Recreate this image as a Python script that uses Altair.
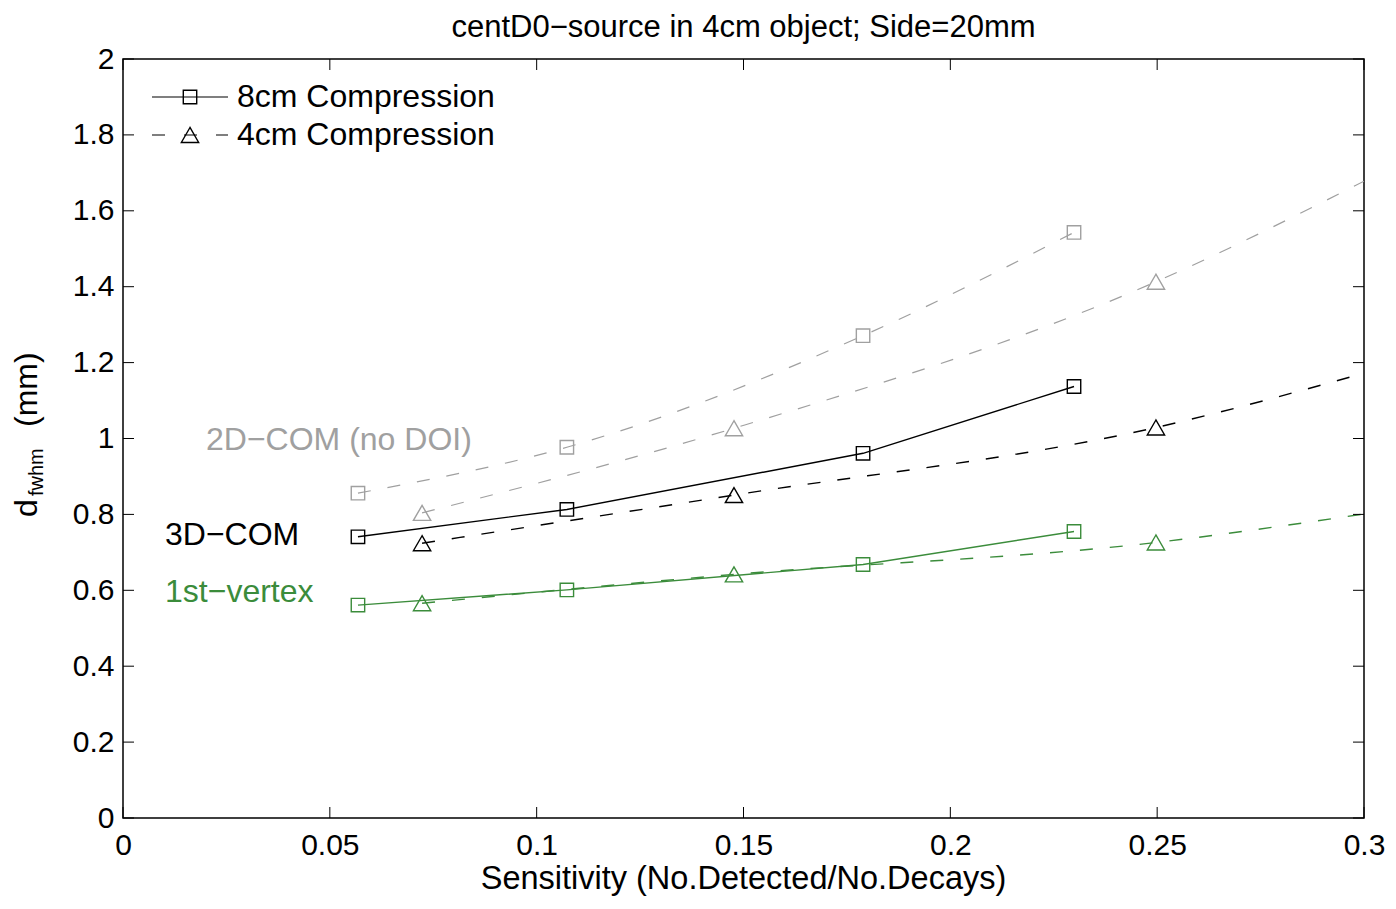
import altair as alt
import pandas as pd

# ---- data ----
x_8cm = [0.0568, 0.1073, 0.1789, 0.2299]
x_4cm = [0.0723, 0.1477, 0.2497]
x_fit_end = 0.3

y_2d_8cm = [0.856, 0.977, 1.271, 1.543]
y_2d_4cm = [0.804, 1.027, 1.413]
y_2d_4cm_end = 1.678

y_3d_8cm = [0.741, 0.813, 0.961, 1.137]
y_3d_4cm = [0.724, 0.851, 1.029]
y_3d_4cm_end = 1.172

y_1v_8cm = [0.561, 0.601, 0.668, 0.755]
y_1v_4cm = [0.566, 0.642, 0.726]
y_1v_4cm_end = 0.801

x_ticks = [0, 0.05, 0.1, 0.15, 0.2, 0.25, 0.3]
y_ticks = [0, 0.2, 0.4, 0.6, 0.8, 1.0, 1.2, 1.4, 1.6, 1.8, 2.0]

title_text = "centD0\u2212source in 4cm object; Side=20mm"
xlabel_text = "Sensitivity (No.Detected/No.Decays)"
legend_labels = ["8cm Compression", "4cm Compression"]
method_labels = ["2D\u2212COM (no DOI)", "3D\u2212COM", "1st\u2212vertex"]

GRAY = "#a0a0a0"
BLACK = "#000000"
GREEN = "#3b8c3b"
FONT = "Liberation Sans"
DASH = [13, 17]
SQ = 180
TRI = 300

W, H = 1241, 759

xs = alt.Scale(domain=[0, 0.3], nice=False, zero=False)
ys = alt.Scale(domain=[0, 2], nice=False, zero=False)
xaxis = alt.Axis(values=x_ticks, format="~g", title=None, labelFlush=False,
                 labelOverlap=False, labelPadding=12, labelFontSize=30,
                 labelFont=FONT, labelColor="black", grid=False, ticks=False,
                 tickSize=0, domain=False)
yaxis = alt.Axis(values=y_ticks, format="~g", title=None, labelFlush=False,
                 labelOverlap=False, labelPadding=9, labelFontSize=30,
                 labelFont=FONT, labelColor="black", grid=False, ticks=False,
                 tickSize=0, domain=False)

X = alt.X("x:Q", scale=xs, axis=xaxis)
Y = alt.Y("y:Q", scale=ys, axis=yaxis)


def df8(vals):
    return pd.DataFrame({"x": x_8cm, "y": vals})


def df4(vals):
    return pd.DataFrame({"x": x_4cm, "y": vals})


def df4_line(vals, end):
    return pd.DataFrame({"x": x_4cm + [x_fit_end], "y": vals + [end]})


layers = []
series = [
    (y_2d_8cm, y_2d_4cm, y_2d_4cm_end, GRAY, True, 1.2),
    (y_3d_8cm, y_3d_4cm, y_3d_4cm_end, BLACK, False, 1.4),
    (y_1v_8cm, y_1v_4cm, y_1v_4cm_end, GREEN, False, 1.4),
]
for v8, v4, vend, col, dash8, lw in series:
    if dash8:
        l8 = alt.Chart(df8(v8)).mark_line(color=col, strokeWidth=lw, strokeDash=DASH,
                                          interpolate="monotone", clip=True)
    else:
        l8 = alt.Chart(df8(v8)).mark_line(color=col, strokeWidth=lw, clip=True)
    layers.append(l8.encode(x=X, y=Y))
    layers.append(alt.Chart(df4_line(v4, vend)).mark_line(
        color=col, strokeWidth=lw, strokeDash=DASH, interpolate="monotone", clip=True
    ).encode(x=X, y=Y))
    layers.append(alt.Chart(df8(v8)).mark_point(
        shape="square", filled=False, size=SQ, color=col, strokeWidth=1.4, opacity=1
    ).encode(x=X, y=Y))
    layers.append(alt.Chart(df4(v4)).mark_point(
        shape="triangle-up", filled=False, size=TRI, color=col, strokeWidth=1.4, opacity=1
    ).encode(x=X, y=Y))

# inward ticks on all four sides
xt = pd.DataFrame({"x": x_ticks})
yt = pd.DataFrame({"y": y_ticks})
TL = 11
layers.append(alt.Chart(xt).mark_rule(color="black", strokeWidth=1).encode(
    x=X, y=alt.value(H), y2=alt.value(H - TL)))
layers.append(alt.Chart(xt).mark_rule(color="black", strokeWidth=1).encode(
    x=X, y=alt.value(0), y2=alt.value(TL)))
layers.append(alt.Chart(yt).mark_rule(color="black", strokeWidth=1).encode(
    y=Y, x=alt.value(0), x2=alt.value(TL)))
layers.append(alt.Chart(yt).mark_rule(color="black", strokeWidth=1).encode(
    y=Y, x=alt.value(W - TL), x2=alt.value(W)))

one = pd.DataFrame({"a": [0]})


def txt(text, x, y, size=32, color="black", align="left", baseline="middle", angle=0):
    kw = dict(text=text, font=FONT, fontSize=size, color=color, align=align,
              baseline=baseline)
    if angle:
        kw["angle"] = angle
    return alt.Chart(one).mark_text(**kw).encode(x=alt.value(x), y=alt.value(y))


# title and axis titles
layers.append(txt(title_text, W / 2, -22, size=31, align="center", baseline="alphabetic"))
layers.append(txt(xlabel_text, W / 2, 830, size=32.5, align="center", baseline="alphabetic"))
layers.append(txt("d", -86, 458, size=32, baseline="alphabetic", angle=270))
layers.append(txt("fwhm", -80, 437, size=20, baseline="alphabetic", angle=270))
layers.append(txt("(mm)", -86, 368, size=32, baseline="alphabetic", angle=270))

# method annotations
layers.append(txt(method_labels[0], 83, 381, color=GRAY))
layers.append(txt(method_labels[1], 42, 476, color=BLACK))
layers.append(txt(method_labels[2], 42, 533, color=GREEN))

# legend
layers.append(alt.Chart(one).mark_rule(color="black", strokeWidth=1.2).encode(
    x=alt.value(29), x2=alt.value(105), y=alt.value(38)))
layers.append(alt.Chart(one).mark_point(shape="square", filled=False, size=SQ,
                                        color="black", strokeWidth=1.4, opacity=1).encode(
    x=alt.value(67), y=alt.value(38)))
layers.append(alt.Chart(one).mark_rule(color="black", strokeWidth=1.2, strokeDash=[13, 19]).encode(
    x=alt.value(29), x2=alt.value(105), y=alt.value(76)))
layers.append(alt.Chart(one).mark_point(shape="triangle-up", filled=False, size=TRI,
                                        color="black", strokeWidth=1.4, opacity=1).encode(
    x=alt.value(67), y=alt.value(76)))
layers.append(txt(legend_labels[0], 114, 38))
layers.append(txt(legend_labels[1], 114, 76))

chart = alt.layer(*layers).properties(
    width=W, height=H,
    padding={"left": 115, "top": 51, "right": 24, "bottom": 90},
    autosize=alt.AutoSizeParams(type="none"),
    background="white",
).configure_view(stroke="black", strokeWidth=1.5)

chart.save("out.html", embed_options={"renderer": "svg", "actions": False})
